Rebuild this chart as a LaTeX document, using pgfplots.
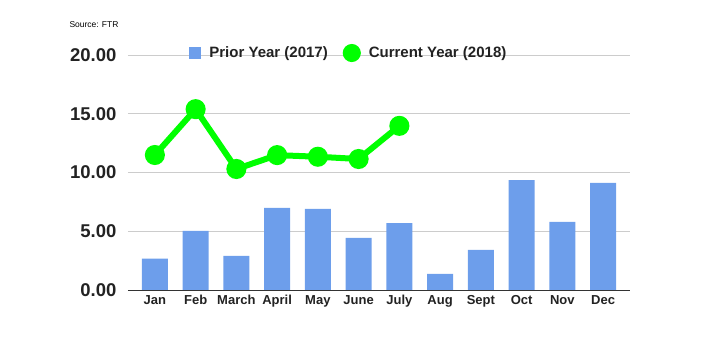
\documentclass[border=0pt]{standalone}
\usepackage{pgfplots}
\pgfplotsset{compat=1.18}
\usepackage{fontspec}
\setmainfont{Liberation Sans}
\definecolor{barblue}{HTML}{6D9EEB}
\definecolor{linegreen}{HTML}{00FF00}
\definecolor{txt}{HTML}{222222}
\definecolor{grid}{HTML}{CCCCCC}
\begin{document}
\begin{tikzpicture}[x=1pt,y=1pt]
\path[use as bounding box] (-128,-51) rectangle (587,290);
\begin{axis}[
  at={(0,0)}, anchor=south west,
  scale only axis, width=502pt, height=235pt,
  xmin=-0.66, xmax=11.66, ymin=0, ymax=20,
  axis line style={draw=none},
  ytick={0,5,10,15,20},
  yticklabel style={/pgf/number format/.cd, fixed, fixed zerofill, precision=2, /tikz/.cd, font=\fontsize{18.5}{20}\selectfont\bfseries, text=txt},
  /pgf/number format/assume math mode=true,
  xmajorgrids=false, ymajorgrids=true,
  y grid style={grid, line width=0.8pt},
  major tick length=0pt,
  xtick={0,...,11},
  xticklabels={Jan,Feb,March,April,May,June,July,Aug,Sept,Oct,Nov,Dec},
  xticklabel style={font=\fontsize{13}{14}\selectfont\bfseries, text=txt, yshift=-2pt},
  yticklabel style={xshift=-8pt},
  legend columns=2,
  legend style={at={(0.44,1.0085)}, anchor=center, draw=none, fill=none,
    font=\fontsize{15}{16}\selectfont\bfseries, text=txt,
    /tikz/every odd column/.append style={column sep=6pt},
    /tikz/every even column/.append style={column sep=13pt}},
  legend cell align=left,
  clip=false,
]
\addplot[ybar, bar width=26pt, fill=barblue, draw=none, bar shift=0pt,
  legend image code/.code={\fill[barblue] (0pt,-6pt) rectangle (12pt,6pt);}]
  coordinates {(0,2.66) (1,5.03) (2,2.91) (3,6.99) (4,6.90) (5,4.44) (6,5.69) (7,1.38) (8,3.42) (9,9.36) (10,5.80) (11,9.11)};
\addlegendentry{Prior Year (2017)}
\draw[color=black!80, line width=1pt] (axis cs:-0.66,0) -- (axis cs:11.66,0);
\addplot[color=linegreen, line width=6pt, mark=*, mark size=7pt, mark options={fill=linegreen, draw=none},
  legend image code/.code={\fill[linegreen] (6pt,0pt) circle (6pt);}]
  coordinates {(0,11.49) (1,15.39) (2,10.30) (3,11.48) (4,11.34) (5,11.15) (6,13.97)};
\addlegendentry{Current Year (2018)}
\end{axis}
\node[anchor=west, font=\fontsize{8.5}{9}\selectfont, text=black] at (-62,265) {Source: FTR};
\end{tikzpicture}
\end{document}
